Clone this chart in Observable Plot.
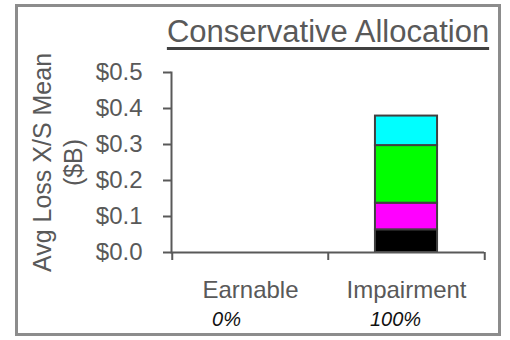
<!DOCTYPE html>
<html>
<head>
<meta charset="utf-8">
<script src="https://cdn.jsdelivr.net/npm/d3@7"></script>
<script src="https://cdn.jsdelivr.net/npm/@observablehq/plot@0.6"></script>
<style>
  body { margin: 0; background: #fff; }
  #chart { position: relative; width: 510px; height: 340px; }
  #chart .box {
    position: absolute; left: 15px; top: 4px; width: 486px; height: 332px;
    box-sizing: border-box; border: 3px solid #8c8c8c; pointer-events: none;
  }
  #chart svg { position: absolute; left: 0; top: 0; }
</style>
</head>
<body>
<div id="chart"><div class="box"></div></div>
<script>
// Average loss by allocation bucket, stacked by loss layer ($B)
const title = "Conservative Allocation";
const yLabel = "Avg Loss X/S Mean\n($B)";
const categories = ["Earnable", "Impairment"];
const shares = ["0%", "100%"];
const layers = ["Layer 1", "Layer 2", "Layer 3", "Layer 4"];
const layerColors = ["#000000", "#ff00ff", "#00ff00", "#00ffff"];
const earnableLoss = [0, 0, 0, 0];
const impairmentLoss = [0.063, 0.074, 0.160, 0.082];
const yTicks = [0, 0.1, 0.2, 0.3, 0.4, 0.5];

const lossByCategory = {Earnable: earnableLoss, Impairment: impairmentLoss};
const rows = categories.flatMap(c =>
  layers.map((layer, i) => ({category: c, layer, value: lossByCategory[c][i]}))
).filter(d => d.value > 0);

const W = 510, H = 340;
const mL = 171, mR = 26, mT = 72, mB = 88;
const band = (W - mL - mR) / categories.length;
const barInset = band * 0.3;
const ink = "#595959";

const chart = Plot.plot({
  width: W, height: H,
  marginLeft: mL, marginRight: mR, marginTop: mT, marginBottom: mB,
  style: {fontFamily: "'Liberation Sans', Arial, sans-serif", color: ink, background: "transparent", overflow: "visible"},
  x: {domain: categories, padding: 0, axis: null},
  y: {domain: [0, 0.5], axis: null},
  color: {domain: layers, range: layerColors},
  marks: [
    Plot.barY(rows, {
      x: "category", y: "value", fill: "layer",
      stroke: "#404040", strokeWidth: 2,
      insetLeft: barInset, insetRight: barInset
    }),
    // axis lines
    Plot.frame({anchor: "left", stroke: ink, strokeWidth: 2}),
    Plot.ruleY([0], {stroke: ink, strokeWidth: 2}),
    // y ticks and dollar labels
    Plot.axisY({
      ticks: yTicks, tickFormat: d => "$" + d.toFixed(1), label: null,
      tickSize: 8, tickPadding: 21, fontSize: 24, strokeWidth: 2, fill: ink
    }),
    // x ticks at the category boundaries
    Plot.axisX({ticks: categories, label: null, tickSize: 8, strokeWidth: 2, tickFormat: () => "", dx: -band / 2}),
    Plot.axisX({ticks: categories.slice(-1), label: null, tickSize: 8, strokeWidth: 2, tickFormat: () => "", dx: band / 2}),
    // category names and shares
    Plot.text(categories, {x: d => d, frameAnchor: "bottom", dy: 45, lineAnchor: "bottom", fontSize: 24, fill: ink}),
    Plot.text(shares.slice(0, 1), {x: categories.slice(0, 1), frameAnchor: "bottom", dx: -24, dy: 73, lineAnchor: "bottom", fontSize: 20, fontStyle: "italic", fill: "#111"}),
    Plot.text(shares.slice(1), {x: categories.slice(1), frameAnchor: "bottom", dx: -11, dy: 73, lineAnchor: "bottom", fontSize: 20, fontStyle: "italic", fill: "#111"}),
    // y axis title
    Plot.text([yLabel], {frameAnchor: "left", textAnchor: "middle", dx: -115, rotate: -90, lineAnchor: "middle", lineHeight: 1.24, fontSize: 25, fill: ink}),
    // chart title
    Plot.text([title], {frameAnchor: "top", dy: -31, lineAnchor: "bottom", fontSize: 31, fill: ink})
  ]
});

document.getElementById("chart").prepend(chart);

// underline the title, in the same local frame as its text
const t = Array.from(chart.querySelectorAll("text")).find(n => n.textContent === title);
if (t) {
  const bb = t.getBBox();
  const base = bb.y + bb.height;
  d3.select(t.parentNode).append("line")
    .attr("transform", t.getAttribute("transform"))
    .attr("x1", bb.x).attr("x2", bb.x + bb.width)
    .attr("y1", base).attr("y2", base)
    .attr("stroke", "#404040").attr("stroke-width", 3);
}
</script>
</body>
</html>
